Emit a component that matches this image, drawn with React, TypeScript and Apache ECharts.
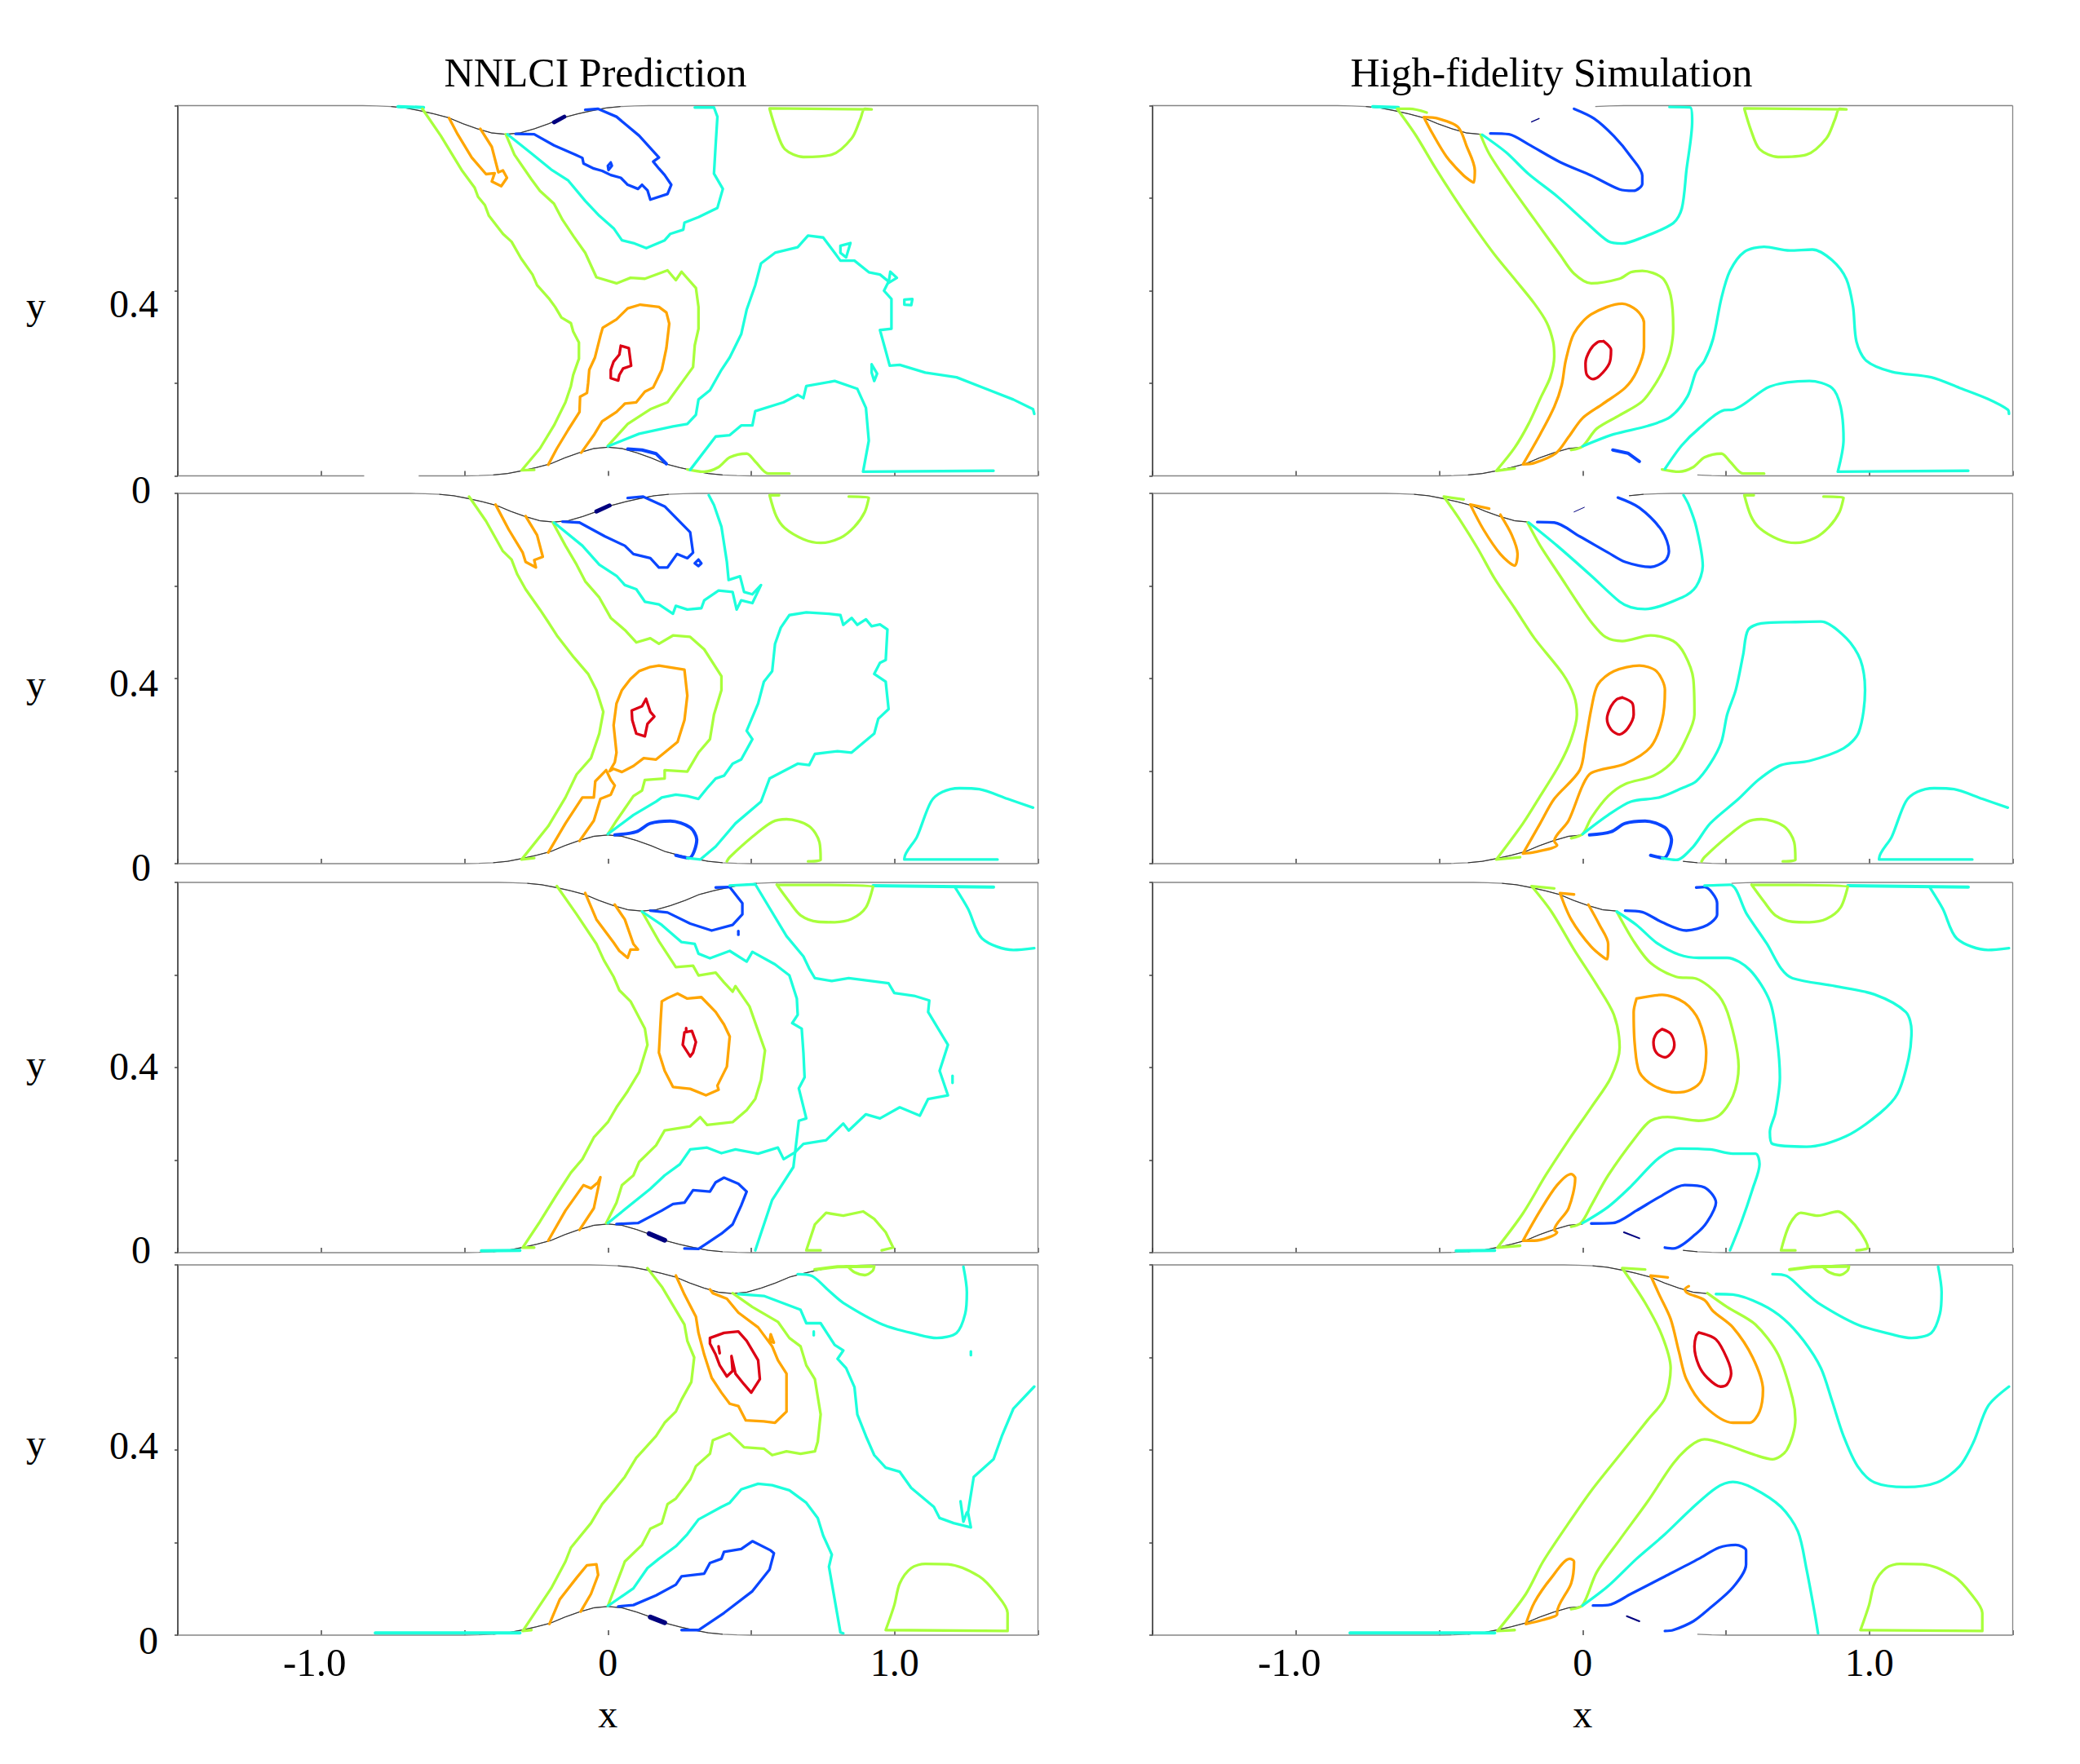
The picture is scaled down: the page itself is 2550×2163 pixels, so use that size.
import React, { useEffect, useRef } from "react";
import * as echarts from "echarts";

type Pt = number[];

const titles = ["NNLCI Prediction", "High-fidelity Simulation"];
const xTickValues = [-1, 0, 1];
const xTickLabels = ["-1.0", "0", "1.0"];
const yTickValues = [0, 0.4];
const yTickLabels = ["0", "0.4"];

// wall profile: offset from the throat centre and height of the wall
const wallOffsets = [-0.5, -0.45, -0.4, -0.35, -0.3, -0.25, -0.2, -0.15, -0.1, -0.05, 0, 0.05, 0.1, 0.15, 0.2, 0.25, 0.3, 0.35, 0.4, 0.45, 0.5];
const wallHeights = [0, 0.0005, 0.002, 0.005, 0.011, 0.018, 0.026, 0.039, 0.05, 0.059, 0.062, 0.059, 0.05, 0.039, 0.026, 0.018, 0.011, 0.005, 0.002, 0.0005, 0];
const upperThroatCentres = [-0.356, -0.188, 0.119, 0.435];

/* ---------- row 1 ---------- */
const r1_greenC: Pt[] = [[0.564,0.793],[0.587,0.747],[0.617,0.706],[0.682,0.689],[0.781,0.694],[0.85,0.729],[0.88,0.77],[0.896,0.793],[0.92,0.792],[0.564,0.794]];
const r1_greenD: Pt[] = [[0.277,0.014],[0.336,0.009],[0.386,0.019],[0.425,0.04],[0.484,0.048],[0.514,0.031],[0.56,0.005],[0.633,0.005]];
const r1_cyanTail: Pt[] = [[-0.732,0.798],[-0.643,0.796]];

const r1L_greenA: Pt[] = [[-0.647,0.793],[-0.583,0.735],[-0.508,0.659],[-0.465,0.623],[-0.453,0.603],[-0.429,0.585],[-0.415,0.562],[-0.366,0.523],[-0.336,0.506],[-0.303,0.47],[-0.263,0.435],[-0.247,0.412],[-0.204,0.382],[-0.184,0.365],[-0.162,0.342],[-0.129,0.33],[-0.121,0.312],[-0.101,0.288],[-0.101,0.253],[-0.121,0.218],[-0.129,0.194],[-0.148,0.159],[-0.188,0.109],[-0.237,0.059],[-0.301,0.012],[-0.257,0.013]];
const r1L_greenB: Pt[] = [[-0.356,0.738],[-0.326,0.694],[-0.267,0.641],[-0.237,0.616],[-0.188,0.588],[-0.158,0.553],[-0.119,0.517],[-0.079,0.482],[-0.04,0.429],[0.03,0.416],[0.079,0.428],[0.129,0.426],[0.208,0.444],[0.237,0.423],[0.257,0.441],[0.307,0.406],[0.316,0.365],[0.316,0.318],[0.303,0.282],[0.297,0.235],[0.263,0.206],[0.208,0.159],[0.148,0.144],[0.069,0.112],[0,0.065]];
const r1L_orangeA: Pt[] = [[-0.554,0.773],[-0.524,0.738],[-0.475,0.688],[-0.425,0.652],[-0.395,0.654],[-0.405,0.636],[-0.372,0.626],[-0.352,0.644],[-0.366,0.66],[-0.382,0.656],[-0.405,0.711],[-0.445,0.75]];
const r1L_orangeB: Pt[] = [[-0.208,0.024],[-0.178,0.059],[-0.138,0.1],[-0.099,0.138],[-0.097,0.171],[-0.073,0.179],[-0.069,0.2],[-0.065,0.229],[-0.045,0.256],[-0.026,0.303],[-0.018,0.32],[0.03,0.338],[0.069,0.362],[0.113,0.37],[0.178,0.365],[0.204,0.353],[0.214,0.329],[0.204,0.276],[0.188,0.229],[0.158,0.191],[0.129,0.182],[0.099,0.159],[0.059,0.156],[0.03,0.138],[-0.02,0.118],[-0.049,0.088],[-0.093,0.05]];
const r1L_red: Pt[] = [[0.045,0.281],[0.073,0.276],[0.081,0.238],[0.053,0.232],[0.04,0.218],[0.036,0.206],[0.01,0.211],[0.01,0.229],[0.02,0.247],[0.04,0.262],[0.045,0.281]];
const r1L_blueA: Pt[] = [[-0.322,0.739],[-0.257,0.738],[-0.188,0.714],[-0.113,0.694],[-0.089,0.687],[-0.085,0.675],[-0.049,0.664],[-0.02,0.659],[0.01,0.65],[0.045,0.644],[0.069,0.629],[0.105,0.62],[0.119,0.629],[0.138,0.617],[0.148,0.597],[0.208,0.609],[0.221,0.629],[0.198,0.65],[0.178,0.664],[0.158,0.679],[0.178,0.688],[0.109,0.735],[0.03,0.776],[-0.034,0.793],[-0.079,0.791]];
const r1L_blueDot: Pt[] = [[0.01,0.677],[0.014,0.67],[0.002,0.661],[0,0.67],[0.01,0.677]];
const r1L_blueB: Pt[] = [[0.069,0.058],[0.119,0.056],[0.168,0.048],[0.204,0.026]];
const r1L_navy: Pt[] = [[-0.188,0.764],[-0.152,0.776]];
const r1L_cyanA: Pt[] = [[-0.35,0.738],[-0.267,0.697],[-0.198,0.662],[-0.138,0.638],[-0.079,0.594],[-0.03,0.562],[0.02,0.535],[0.049,0.509],[0.089,0.503],[0.134,0.492],[0.198,0.509],[0.218,0.523],[0.263,0.532],[0.267,0.547],[0.316,0.559],[0.382,0.579],[0.401,0.62],[0.37,0.653],[0.376,0.717],[0.382,0.776],[0.37,0.796],[0.303,0.796]];
const r1L_cyanB: Pt[] = [[0,0.064],[0.109,0.091],[0.227,0.107],[0.277,0.112],[0.307,0.132],[0.316,0.165],[0.356,0.185],[0.396,0.229],[0.425,0.256],[0.465,0.306],[0.484,0.359],[0.514,0.412],[0.534,0.459],[0.583,0.482],[0.662,0.494],[0.698,0.519],[0.751,0.515],[0.791,0.482],[0.811,0.465],[0.86,0.465],[0.91,0.44],[0.949,0.435],[0.979,0.42],[0.963,0.4],[0.989,0.382],[0.989,0.318],[0.949,0.315],[0.969,0.27],[0.983,0.238],[1.018,0.24],[1.107,0.223],[1.216,0.213],[1.315,0.189],[1.414,0.165],[1.483,0.144],[1.487,0.134]];
const r1L_cyanC: Pt[] = [[0.287,0.013],[0.376,0.085],[0.425,0.088],[0.465,0.109],[0.504,0.109],[0.514,0.14],[0.613,0.159],[0.662,0.175],[0.682,0.168],[0.692,0.194],[0.791,0.205],[0.87,0.188],[0.9,0.147],[0.91,0.076],[0.89,0.009],[1.345,0.011]];
const r1L_cyanPolyA: Pt[] = [[0.811,0.497],[0.846,0.503],[0.831,0.472],[0.811,0.482],[0.811,0.497]];
const r1L_cyanPolyB: Pt[] = [[1.034,0.381],[1.062,0.382],[1.058,0.369],[1.034,0.37],[1.034,0.381]];
const r1L_cyanPolyC: Pt[] = [[0.92,0.241],[0.939,0.221],[0.929,0.205],[0.92,0.223],[0.92,0.241]];
const r1L_cyanPolyD: Pt[] = [[0.979,0.417],[0.985,0.441],[1.008,0.428],[0.979,0.417]];

const r1R_greenA: Pt[] = [[-0.544,0.785],[-0.603,0.793],[-0.647,0.793],[-0.583,0.737],[-0.514,0.666],[-0.435,0.59],[-0.366,0.528],[-0.307,0.478],[-0.237,0.425],[-0.168,0.372],[-0.125,0.331],[-0.103,0.29],[-0.099,0.258],[-0.113,0.213],[-0.144,0.172],[-0.188,0.113],[-0.237,0.061],[-0.301,0.011],[-0.237,0.016]];
const r1R_greenB: Pt[] = [[-0.356,0.737],[-0.326,0.696],[-0.257,0.631],[-0.168,0.554],[-0.079,0.478],[-0.03,0.437],[0.03,0.416],[0.129,0.426],[0.168,0.44],[0.208,0.443],[0.277,0.428],[0.307,0.39],[0.316,0.319],[0.307,0.272],[0.287,0.237],[0.257,0.202],[0.208,0.161],[0.129,0.131],[0.049,0.102],[0,0.064],[-0.04,0.056]];
const r1R_orangeA: Pt[] = [[-0.554,0.775],[-0.504,0.772],[-0.435,0.754],[-0.405,0.713],[-0.376,0.66],[-0.38,0.634],[-0.415,0.649],[-0.475,0.69],[-0.524,0.74],[-0.554,0.775]];
const r1R_orangeB: Pt[] = [[-0.208,0.025],[-0.148,0.09],[-0.099,0.149],[-0.073,0.196],[-0.059,0.249],[-0.03,0.308],[0.03,0.349],[0.138,0.372],[0.188,0.358],[0.214,0.331],[0.214,0.278],[0.188,0.225],[0.148,0.19],[0.069,0.155],[0,0.125],[-0.049,0.084],[-0.093,0.049],[-0.168,0.028],[-0.208,0.025]];
const r1R_red: Pt[] = [[0.073,0.291],[0.099,0.272],[0.093,0.243],[0.059,0.216],[0.036,0.209],[0.014,0.219],[0.01,0.243],[0.026,0.272],[0.053,0.289],[0.073,0.291]];
const r1R_blueA: Pt[] = [[-0.322,0.74],[-0.257,0.738],[-0.188,0.716],[-0.079,0.678],[0.03,0.649],[0.129,0.619],[0.178,0.616],[0.208,0.631],[0.208,0.649],[0.168,0.69],[0.109,0.734],[0.04,0.772],[-0.03,0.793]];
const r1R_blueB: Pt[] = [[0.105,0.056],[0.158,0.049],[0.198,0.031]];
const r1R_navy: Pt[] = [[-0.178,0.765],[-0.152,0.772]];
const r1R_cyanA: Pt[] = [[-0.35,0.737],[-0.267,0.699],[-0.188,0.652],[-0.089,0.604],[0.01,0.549],[0.089,0.507],[0.138,0.502],[0.208,0.515],[0.316,0.546],[0.346,0.578],[0.362,0.66],[0.382,0.766],[0.376,0.796],[0.303,0.797]];
const r1R_cyanB: Pt[] = [[0,0.064],[0.109,0.09],[0.227,0.108],[0.307,0.128],[0.366,0.172],[0.396,0.225],[0.425,0.249],[0.455,0.296],[0.484,0.384],[0.514,0.443],[0.564,0.484],[0.633,0.495],[0.722,0.487],[0.801,0.489],[0.87,0.466],[0.92,0.425],[0.943,0.366],[0.955,0.29],[0.989,0.249],[1.078,0.225],[1.216,0.213],[1.315,0.19],[1.414,0.166],[1.483,0.143],[1.487,0.134]];
const r1R_cyanC: Pt[] = [[0.287,0.015],[0.346,0.066],[0.405,0.102],[0.494,0.142],[0.524,0.143],[0.653,0.193],[0.791,0.205],[0.87,0.19],[0.9,0.149],[0.91,0.078],[0.89,0.009],[1.345,0.011]];

/* ---------- row 2 ---------- */
const r2_greenC: Pt[] = [[0.597,0.796],[0.564,0.796],[0.587,0.751],[0.617,0.725],[0.682,0.701],[0.742,0.693],[0.811,0.704],[0.86,0.728],[0.896,0.76],[0.91,0.791],[0.84,0.793]];
const r2_greenD: Pt[] = [[0.415,0.005],[0.425,0.014],[0.504,0.058],[0.573,0.09],[0.623,0.096],[0.702,0.081],[0.738,0.046],[0.742,0.008],[0.698,0.005]];
const r2_blueB: Pt[] = [[0.024,0.062],[0.099,0.069],[0.148,0.087],[0.218,0.092],[0.287,0.078],[0.31,0.052],[0.283,0.012],[0.237,0.018]];
const r2_cyanC: Pt[] = [[1.359,0.009],[1.034,0.009],[1.034,0.011],[1.078,0.058],[1.127,0.134],[1.167,0.155],[1.226,0.163],[1.295,0.161],[1.394,0.14],[1.483,0.121]];

const r2L_greenA: Pt[] = [[-0.484,0.793],[-0.425,0.74],[-0.366,0.675],[-0.336,0.657],[-0.316,0.625],[-0.287,0.593],[-0.237,0.549],[-0.208,0.522],[-0.178,0.493],[-0.119,0.446],[-0.069,0.41],[-0.04,0.375],[-0.016,0.328],[-0.03,0.281],[-0.059,0.228],[-0.109,0.193],[-0.148,0.143],[-0.208,0.081],[-0.301,0.009],[-0.257,0.012]];
const r2L_greenB: Pt[] = [[-0.192,0.737],[-0.148,0.687],[-0.109,0.646],[-0.079,0.61],[-0.03,0.575],[0.01,0.531],[0.059,0.505],[0.099,0.478],[0.148,0.487],[0.178,0.475],[0.227,0.493],[0.287,0.49],[0.336,0.463],[0.396,0.405],[0.396,0.375],[0.37,0.322],[0.356,0.269],[0.316,0.24],[0.277,0.199],[0.198,0.202],[0.198,0.184],[0.129,0.181],[0.119,0.158],[0.089,0.146],[0.03,0.093],[0,0.064]];
const r2L_orangeA: Pt[] = [[-0.392,0.776],[-0.346,0.722],[-0.297,0.672],[-0.287,0.652],[-0.251,0.64],[-0.257,0.656],[-0.227,0.663],[-0.247,0.71],[-0.287,0.751]];
const r2L_orangeB: Pt[] = [[0.03,0.24],[0.02,0.299],[0.03,0.346],[0.049,0.375],[0.079,0.399],[0.109,0.416],[0.148,0.425],[0.178,0.428],[0.227,0.423],[0.267,0.419],[0.277,0.363],[0.267,0.31],[0.243,0.263],[0.198,0.24],[0.168,0.225],[0.125,0.228],[0.089,0.211],[0.049,0.198],[0.02,0.205],[0.006,0.2],[0.024,0.219],[0.03,0.24]];
const r2L_orangeC: Pt[] = [[-0.208,0.024],[-0.148,0.087],[-0.089,0.143],[-0.049,0.143],[-0.044,0.178],[-0.006,0.202],[0.01,0.181],[0.024,0.169],[0.01,0.149],[-0.026,0.14],[-0.049,0.093],[-0.099,0.049]];
const r2L_red: Pt[] = [[0.133,0.356],[0.148,0.328],[0.162,0.318],[0.138,0.302],[0.129,0.275],[0.099,0.281],[0.085,0.31],[0.083,0.331],[0.119,0.34],[0.133,0.356]];
const r2L_blueA: Pt[] = [[-0.158,0.739],[-0.099,0.737],[-0.01,0.707],[0.059,0.687],[0.089,0.669],[0.148,0.66],[0.178,0.64],[0.208,0.64],[0.241,0.669],[0.277,0.66],[0.297,0.672],[0.287,0.716],[0.198,0.772],[0.123,0.793],[0.069,0.79]];
const r2L_bluePoly: Pt[] = [[0.316,0.657],[0.326,0.649],[0.316,0.643],[0.303,0.649],[0.316,0.657]];
const r2L_navy: Pt[] = [[-0.04,0.761],[0.006,0.774]];
const r2L_cyanA: Pt[] = [[-0.188,0.737],[-0.089,0.687],[-0.03,0.646],[0.03,0.622],[0.059,0.602],[0.099,0.593],[0.129,0.566],[0.178,0.56],[0.227,0.54],[0.237,0.557],[0.277,0.549],[0.326,0.552],[0.336,0.569],[0.386,0.59],[0.435,0.587],[0.449,0.549],[0.465,0.569],[0.504,0.563],[0.534,0.602],[0.504,0.582],[0.475,0.587],[0.461,0.621],[0.421,0.613],[0.415,0.652],[0.396,0.728],[0.37,0.775],[0.352,0.796]];
const r2L_cyanB: Pt[] = [[0,0.064],[0.089,0.105],[0.168,0.134],[0.188,0.143],[0.237,0.149],[0.277,0.146],[0.316,0.14],[0.346,0.163],[0.376,0.184],[0.405,0.19],[0.435,0.216],[0.465,0.225],[0.504,0.269],[0.484,0.287],[0.524,0.346],[0.544,0.393],[0.573,0.416],[0.583,0.475],[0.603,0.51],[0.633,0.537],[0.692,0.543],[0.771,0.54],[0.811,0.537],[0.821,0.516],[0.85,0.531],[0.87,0.516],[0.9,0.528],[0.92,0.513],[0.949,0.517],[0.975,0.506],[0.969,0.44],[0.949,0.434],[0.929,0.41],[0.969,0.393],[0.979,0.334],[0.943,0.313],[0.929,0.281],[0.85,0.24],[0.801,0.243],[0.722,0.237],[0.702,0.213],[0.662,0.216],[0.564,0.184],[0.534,0.134],[0.445,0.087],[0.376,0.037],[0.322,0.009],[0.277,0.012]];

const r2R_greenA: Pt[] = [[-0.415,0.787],[-0.484,0.793],[-0.425,0.74],[-0.366,0.681],[-0.307,0.616],[-0.237,0.552],[-0.168,0.487],[-0.069,0.41],[-0.03,0.363],[-0.02,0.322],[-0.04,0.269],[-0.079,0.216],[-0.148,0.146],[-0.208,0.087],[-0.301,0.009],[-0.218,0.014]];
const r2R_greenB: Pt[] = [[-0.192,0.737],[-0.148,0.687],[-0.079,0.622],[-0.01,0.557],[0.03,0.522],[0.079,0.49],[0.138,0.481],[0.237,0.493],[0.316,0.481],[0.356,0.452],[0.386,0.399],[0.39,0.322],[0.356,0.263],[0.316,0.222],[0.247,0.19],[0.148,0.172],[0.089,0.146],[0.03,0.099],[0,0.064],[-0.04,0.055]];
const r2R_orangeA: Pt[] = [[-0.326,0.767],[-0.392,0.776],[-0.346,0.722],[-0.287,0.669],[-0.237,0.644],[-0.227,0.669],[-0.247,0.71],[-0.287,0.754]];
const r2R_orangeB: Pt[] = [[-0.208,0.022],[-0.148,0.087],[-0.099,0.14],[-0.01,0.202],[0.01,0.263],[0.03,0.334],[0.053,0.387],[0.109,0.416],[0.198,0.428],[0.257,0.416],[0.287,0.375],[0.277,0.31],[0.237,0.252],[0.148,0.216],[0.03,0.196],[0,0.169],[-0.049,0.093],[-0.099,0.049],[-0.089,0.04],[-0.168,0.025],[-0.208,0.022]];
const r2R_red: Pt[] = [[0.138,0.359],[0.174,0.346],[0.178,0.322],[0.158,0.293],[0.129,0.279],[0.099,0.29],[0.085,0.313],[0.099,0.34],[0.119,0.355],[0.138,0.359]];
const r2R_blueA: Pt[] = [[-0.158,0.738],[-0.099,0.737],[-0.01,0.707],[0.089,0.672],[0.148,0.652],[0.237,0.641],[0.287,0.654],[0.301,0.675],[0.277,0.719],[0.198,0.769],[0.123,0.791]];
const r2R_navy: Pt[] = [[-0.03,0.76],[0.006,0.77]];
const r2R_cyanA: Pt[] = [[-0.188,0.737],[-0.089,0.687],[0.03,0.622],[0.129,0.566],[0.168,0.554],[0.218,0.55],[0.346,0.575],[0.396,0.599],[0.419,0.643],[0.396,0.728],[0.37,0.775],[0.352,0.796]];
const r2R_cyanB: Pt[] = [[0,0.064],[0.089,0.105],[0.168,0.134],[0.267,0.143],[0.346,0.163],[0.396,0.178],[0.445,0.216],[0.484,0.263],[0.504,0.322],[0.534,0.375],[0.56,0.452],[0.577,0.505],[0.623,0.519],[0.742,0.522],[0.831,0.523],[0.92,0.487],[0.969,0.44],[0.985,0.375],[0.963,0.284],[0.91,0.249],[0.791,0.222],[0.692,0.213],[0.613,0.181],[0.544,0.14],[0.445,0.087],[0.386,0.037],[0.326,0.008],[0.277,0.012]];

/* ---------- row 3 ---------- */
const r3_greenC: Pt[] = [[0.589,0.795],[0.633,0.758],[0.672,0.729],[0.732,0.715],[0.791,0.714],[0.85,0.721],[0.9,0.746],[0.925,0.792],[0.589,0.795]];
const r3_greenD: Pt[] = [[0.742,0.005],[0.692,0.005],[0.722,0.061],[0.761,0.086],[0.821,0.08],[0.89,0.089],[0.929,0.073],[0.969,0.044],[0.995,0.011],[0.955,0.005]];
const r3_cyanTop: Pt[] = [[0.925,0.793],[1.345,0.79]];
const r3_cyanRight: Pt[] = [[1.21,0.79],[1.256,0.743],[1.305,0.679],[1.414,0.654],[1.487,0.658]];
const r3_cyanTail: Pt[] = [[-0.441,0.004],[-0.307,0.005]];

const r3L_greenA: Pt[] = [[-0.178,0.792],[-0.109,0.731],[-0.04,0.667],[-0.014,0.632],[0.02,0.596],[0.04,0.567],[0.079,0.543],[0.129,0.484],[0.138,0.449],[0.109,0.39],[0.069,0.349],[0.03,0.314],[0,0.282],[-0.049,0.249],[-0.089,0.202],[-0.129,0.173],[-0.178,0.126],[-0.237,0.067],[-0.297,0.011],[-0.257,0.011]];
const r3L_greenB: Pt[] = [[0.119,0.737],[0.178,0.673],[0.237,0.617],[0.297,0.62],[0.316,0.599],[0.376,0.605],[0.405,0.584],[0.435,0.564],[0.445,0.576],[0.494,0.532],[0.524,0.479],[0.548,0.437],[0.534,0.373],[0.514,0.332],[0.484,0.308],[0.435,0.282],[0.346,0.276],[0.322,0.293],[0.287,0.273],[0.198,0.264],[0.168,0.232],[0.109,0.196],[0.089,0.167],[0.049,0.146],[0.03,0.108],[-0.006,0.064]];
const r3L_orangeA: Pt[] = [[-0.079,0.777],[-0.04,0.72],[0.02,0.67],[0.04,0.652],[0.069,0.637],[0.079,0.655],[0.105,0.655],[0.089,0.667],[0.059,0.72],[0.024,0.752]];
const r3L_orangeB: Pt[] = [[0.188,0.543],[0.208,0.55],[0.243,0.56],[0.277,0.549],[0.326,0.552],[0.376,0.52],[0.405,0.493],[0.425,0.467],[0.415,0.402],[0.382,0.361],[0.386,0.352],[0.342,0.34],[0.287,0.354],[0.227,0.358],[0.198,0.393],[0.178,0.432],[0.184,0.502],[0.188,0.543]];
const r3L_orangeC: Pt[] = [[-0.208,0.026],[-0.148,0.091],[-0.085,0.146],[-0.059,0.139],[-0.034,0.152],[-0.026,0.163],[-0.049,0.096],[-0.099,0.049]];
const r3L_red: Pt[] = [[0.267,0.476],[0.293,0.479],[0.307,0.455],[0.297,0.432],[0.287,0.424],[0.261,0.449],[0.267,0.476]];
const r3L_redDot: Pt[] = [[0.273,0.485],[0.273,0.478]];
const r3L_blueA: Pt[] = [[0.148,0.739],[0.208,0.735],[0.287,0.711],[0.362,0.696],[0.435,0.708],[0.469,0.731],[0.469,0.755],[0.425,0.79],[0.376,0.789]];
const r3L_blueDot: Pt[] = [[0.455,0.695],[0.455,0.687]];
const r3L_blueB: Pt[] = [[0.03,0.062],[0.105,0.064],[0.188,0.091],[0.227,0.105],[0.267,0.108],[0.297,0.135],[0.356,0.132],[0.376,0.152],[0.405,0.162],[0.455,0.149],[0.484,0.132],[0.465,0.102],[0.435,0.061],[0.396,0.041],[0.316,0.008],[0.267,0.009]];
const r3L_navy: Pt[] = [[0.144,0.041],[0.198,0.027]];
const r3L_cyanA: Pt[] = [[0.119,0.737],[0.188,0.708],[0.257,0.671],[0.303,0.667],[0.316,0.646],[0.356,0.636],[0.425,0.652],[0.484,0.629],[0.504,0.65],[0.583,0.623],[0.633,0.599],[0.659,0.549],[0.662,0.514],[0.643,0.496],[0.676,0.484],[0.682,0.432],[0.686,0.379],[0.666,0.355],[0.692,0.29],[0.666,0.285],[0.647,0.185],[0.573,0.114],[0.514,0.005]];
const r3L_cyanB: Pt[] = [[0,0.064],[0.148,0.138],[0.198,0.167],[0.251,0.191],[0.287,0.223],[0.346,0.227],[0.396,0.215],[0.445,0.223],[0.524,0.214],[0.593,0.227],[0.613,0.202],[0.653,0.217],[0.682,0.235],[0.761,0.243],[0.821,0.279],[0.84,0.264],[0.9,0.299],[0.949,0.29],[1.018,0.314],[1.088,0.296],[1.117,0.332],[1.186,0.34],[1.157,0.393],[1.186,0.449],[1.117,0.52],[1.121,0.545],[1.068,0.555],[0.999,0.561],[0.979,0.582],[0.84,0.593],[0.781,0.587],[0.722,0.593],[0.702,0.614],[0.682,0.64],[0.623,0.684],[0.514,0.796],[0.425,0.793]];
const r3L_cyanDot: Pt[] = [[1.202,0.382],[1.202,0.367]];

const r3R_greenA: Pt[] = [[-0.099,0.787],[-0.178,0.792],[-0.109,0.737],[-0.03,0.655],[0.049,0.579],[0.109,0.514],[0.129,0.443],[0.099,0.379],[0.03,0.314],[-0.049,0.243],[-0.129,0.167],[-0.208,0.085],[-0.297,0.011],[-0.218,0.015]];
const r3R_greenB: Pt[] = [[0.119,0.737],[0.178,0.673],[0.237,0.626],[0.326,0.596],[0.396,0.592],[0.475,0.555],[0.514,0.502],[0.544,0.402],[0.524,0.338],[0.475,0.296],[0.405,0.285],[0.297,0.293],[0.237,0.285],[0.188,0.252],[0.089,0.167],[0.03,0.102],[-0.006,0.064],[-0.04,0.056]];
const r3R_orangeA: Pt[] = [[-0.03,0.774],[-0.079,0.777],[-0.04,0.72],[0.03,0.661],[0.085,0.634],[0.089,0.667],[0.059,0.708],[0.02,0.752]];
const r3R_orangeB: Pt[] = [[0.188,0.549],[0.277,0.557],[0.356,0.54],[0.405,0.502],[0.431,0.432],[0.415,0.373],[0.376,0.352],[0.326,0.346],[0.247,0.361],[0.198,0.39],[0.182,0.449],[0.178,0.52],[0.188,0.549]];
const r3R_orangeC: Pt[] = [[-0.208,0.026],[-0.148,0.091],[-0.089,0.146],[-0.04,0.17],[-0.026,0.161],[-0.049,0.096],[-0.099,0.049],[-0.089,0.044],[-0.168,0.026],[-0.208,0.026]];
const r3R_red: Pt[] = [[0.277,0.483],[0.307,0.473],[0.32,0.449],[0.31,0.432],[0.287,0.422],[0.257,0.432],[0.247,0.455],[0.257,0.473],[0.277,0.483]];
const r3R_blueA: Pt[] = [[0.148,0.739],[0.208,0.736],[0.277,0.714],[0.362,0.696],[0.435,0.708],[0.469,0.731],[0.469,0.755],[0.425,0.79],[0.396,0.789]];
const r3R_blueB: Pt[] = [[0.03,0.063],[0.105,0.064],[0.188,0.091],[0.267,0.12],[0.356,0.146],[0.425,0.141],[0.465,0.108],[0.435,0.067],[0.396,0.041],[0.316,0.009],[0.287,0.011]];
const r3R_navy: Pt[] = [[0.144,0.044],[0.198,0.031]];
const r3R_cyanA: Pt[] = [[0.119,0.737],[0.188,0.708],[0.257,0.67],[0.336,0.644],[0.405,0.637],[0.504,0.637],[0.583,0.611],[0.653,0.543],[0.678,0.461],[0.688,0.379],[0.672,0.302],[0.653,0.261],[0.662,0.235],[0.781,0.229],[0.92,0.252],[1.038,0.302],[1.098,0.343],[1.137,0.42],[1.147,0.479],[1.127,0.52],[1.018,0.558],[0.88,0.576],[0.732,0.593],[0.692,0.614],[0.643,0.667],[0.573,0.731],[0.514,0.795],[0.425,0.793]];
const r3R_cyanB: Pt[] = [[0,0.064],[0.089,0.099],[0.168,0.143],[0.267,0.205],[0.336,0.225],[0.445,0.223],[0.524,0.214],[0.603,0.214],[0.617,0.191],[0.593,0.138],[0.554,0.067],[0.514,0.005]];

/* ---------- row 4 ---------- */
const r4_greenC: Pt[] = [[0.969,0.011],[1.394,0.009],[1.394,0.048],[1.355,0.089],[1.295,0.127],[1.186,0.153],[1.107,0.154],[1.058,0.145],[1.018,0.112],[0.999,0.065],[0.969,0.011]];
const r4_greenD: Pt[] = [[0.722,0.79],[0.801,0.796],[0.92,0.797]];
const r4_greenLoop: Pt[] = [[0.836,0.797],[0.86,0.784],[0.896,0.778],[0.923,0.787],[0.929,0.797]];
const r4_cyanC: Pt[] = [[0.662,0.78],[0.712,0.776],[0.771,0.744],[0.821,0.718],[0.959,0.671],[1.078,0.65],[1.147,0.642],[1.216,0.653],[1.246,0.694],[1.252,0.741],[1.24,0.796]];
const r4_cyanTail: Pt[] = [[-0.811,0.005],[-0.307,0.005]];

const r4L_greenA: Pt[] = [[0.138,0.793],[0.188,0.753],[0.267,0.671],[0.277,0.636],[0.301,0.6],[0.291,0.547],[0.257,0.509],[0.237,0.483],[0.198,0.459],[0.168,0.43],[0.099,0.383],[0.059,0.342],[0.02,0.312],[-0.02,0.283],[-0.059,0.242],[-0.129,0.189],[-0.148,0.159],[-0.198,0.101],[-0.297,0.009],[-0.267,0.011]];
const r4L_greenB: Pt[] = [[0.435,0.739],[0.504,0.709],[0.593,0.677],[0.633,0.642],[0.672,0.624],[0.692,0.583],[0.722,0.553],[0.742,0.477],[0.732,0.418],[0.722,0.397],[0.672,0.392],[0.623,0.397],[0.573,0.389],[0.544,0.403],[0.475,0.406],[0.425,0.436],[0.366,0.421],[0.356,0.392],[0.307,0.365],[0.287,0.336],[0.237,0.295],[0.208,0.283],[0.188,0.242],[0.148,0.23],[0.119,0.195],[0.059,0.159],[0.049,0.142],[0,0.063]];
const r4L_orangeA: Pt[] = [[0.237,0.777],[0.267,0.736],[0.307,0.688],[0.316,0.653],[0.336,0.606],[0.362,0.556],[0.396,0.524],[0.425,0.5],[0.455,0.495],[0.481,0.464],[0.544,0.462],[0.583,0.459],[0.623,0.483],[0.623,0.565],[0.593,0.594],[0.573,0.624],[0.524,0.665],[0.455,0.697],[0.415,0.727],[0.366,0.739],[0.356,0.747]];
const r4L_orangeDot: Pt[] = [[0.568,0.65],[0.579,0.632],[0.564,0.635],[0.568,0.65]];
const r4L_orangeB: Pt[] = [[-0.204,0.024],[-0.168,0.077],[-0.109,0.124],[-0.073,0.151],[-0.04,0.153],[-0.034,0.13],[-0.059,0.089],[-0.095,0.051]];
const r4L_red: Pt[] = [[0.356,0.642],[0.405,0.653],[0.455,0.656],[0.484,0.636],[0.524,0.594],[0.53,0.553],[0.5,0.524],[0.475,0.542],[0.445,0.565],[0.431,0.603],[0.435,0.571],[0.415,0.559],[0.39,0.583],[0.376,0.606],[0.356,0.63],[0.356,0.642]];
const r4L_redDot: Pt[] = [[0.386,0.624],[0.39,0.609]];
const r4L_blueA: Pt[] = [[0.036,0.062],[0.089,0.065],[0.168,0.086],[0.237,0.109],[0.257,0.127],[0.336,0.133],[0.356,0.156],[0.396,0.165],[0.405,0.18],[0.465,0.186],[0.504,0.203],[0.568,0.183],[0.579,0.177],[0.564,0.142],[0.504,0.095],[0.405,0.048],[0.316,0.011],[0.257,0.011]];
const r4L_navy: Pt[] = [[0.148,0.039],[0.198,0.027]];
const r4L_cyanA: Pt[] = [[0.455,0.737],[0.544,0.733],[0.672,0.703],[0.692,0.674],[0.742,0.674],[0.791,0.627],[0.821,0.615],[0.801,0.597],[0.831,0.577],[0.86,0.536],[0.87,0.477],[0.9,0.43],[0.929,0.389],[0.969,0.362],[1.018,0.353],[1.058,0.318],[1.137,0.277],[1.157,0.253],[1.206,0.242],[1.266,0.233],[1.256,0.265],[1.276,0.342],[1.345,0.38],[1.374,0.43],[1.414,0.489],[1.487,0.537]];
const r4L_cyanSpike: Pt[] = [[1.23,0.289],[1.24,0.245],[1.252,0.265]];
const r4L_cyanDotA: Pt[] = [[0.718,0.656],[0.718,0.648]];
const r4L_cyanDotB: Pt[] = [[1.266,0.613],[1.266,0.605]];
const r4L_cyanB: Pt[] = [[0,0.063],[0.089,0.101],[0.138,0.145],[0.178,0.165],[0.237,0.192],[0.277,0.218],[0.316,0.25],[0.396,0.277],[0.425,0.286],[0.465,0.315],[0.524,0.327],[0.573,0.324],[0.633,0.313],[0.692,0.286],[0.732,0.253],[0.751,0.215],[0.781,0.174],[0.771,0.148],[0.811,0.006],[0.821,0.004]];

const r4R_greenA: Pt[] = [[0.218,0.79],[0.138,0.793],[0.218,0.718],[0.277,0.647],[0.307,0.577],[0.287,0.512],[0.227,0.465],[0.129,0.389],[0.03,0.312],[-0.049,0.242],[-0.138,0.159],[-0.198,0.089],[-0.297,0.009],[-0.237,0.011]];
const r4R_greenB: Pt[] = [[0.435,0.739],[0.504,0.709],[0.603,0.671],[0.682,0.606],[0.732,0.512],[0.742,0.465],[0.712,0.4],[0.662,0.38],[0.603,0.389],[0.504,0.411],[0.425,0.423],[0.376,0.409],[0.316,0.371],[0.227,0.289],[0.129,0.206],[0.049,0.136],[0,0.065],[-0.04,0.056]];
const r4R_orangeA: Pt[] = [[0.297,0.773],[0.237,0.777],[0.267,0.736],[0.307,0.683],[0.336,0.612],[0.362,0.553],[0.425,0.495],[0.524,0.459],[0.583,0.459],[0.617,0.483],[0.629,0.53],[0.593,0.6],[0.524,0.665],[0.455,0.7],[0.425,0.724],[0.366,0.739],[0.356,0.747],[0.37,0.754]];
const r4R_orangeB: Pt[] = [[-0.198,0.024],[-0.168,0.071],[-0.109,0.124],[-0.045,0.165],[-0.03,0.159],[-0.04,0.112],[-0.089,0.049],[-0.089,0.045],[-0.138,0.033],[-0.198,0.024]];
const r4R_red: Pt[] = [[0.405,0.654],[0.465,0.639],[0.504,0.597],[0.518,0.565],[0.504,0.542],[0.481,0.537],[0.435,0.556],[0.405,0.583],[0.39,0.624],[0.396,0.647],[0.405,0.654]];
const r4R_blueA: Pt[] = [[0.036,0.064],[0.089,0.065],[0.168,0.089],[0.287,0.127],[0.405,0.165],[0.475,0.189],[0.534,0.195],[0.57,0.183],[0.57,0.153],[0.524,0.103],[0.445,0.059],[0.386,0.03],[0.316,0.011],[0.287,0.009]];
const r4R_navy: Pt[] = [[0.154,0.041],[0.198,0.03]];
const r4R_cyanA: Pt[] = [[0.465,0.737],[0.524,0.736],[0.623,0.715],[0.702,0.683],[0.771,0.636],[0.831,0.577],[0.87,0.506],[0.91,0.43],[0.959,0.365],[1.018,0.33],[1.127,0.32],[1.236,0.33],[1.315,0.365],[1.364,0.418],[1.414,0.495],[1.487,0.537]];
const r4R_cyanB: Pt[] = [[0,0.064],[0.089,0.106],[0.188,0.165],[0.287,0.218],[0.376,0.271],[0.465,0.318],[0.524,0.331],[0.593,0.318],[0.692,0.277],[0.751,0.224],[0.781,0.142],[0.811,0.042],[0.821,0.004]];

const CYAN = "#1CFFDC", GREEN = "#A8FF3C", ORANGE = "#FFA500", RED = "#DC0014", BLUE = "#0A46FF", NAVY = "#00007F";

const leftCurves: [Pt[], string, number?][][] = [
  [[r1_cyanTail,CYAN,4],[r1L_greenA,GREEN],[r1L_greenB,GREEN],[r1_greenC,GREEN],[r1_greenD,GREEN],[r1L_orangeA,ORANGE],[r1L_orangeB,ORANGE],[r1L_red,RED],[r1L_blueA,BLUE],[r1L_blueDot,BLUE],[r1L_blueB,BLUE,4],[r1L_navy,NAVY,5],[r1L_cyanA,CYAN],[r1L_cyanB,CYAN],[r1L_cyanC,CYAN],[r1L_cyanPolyA,CYAN],[r1L_cyanPolyB,CYAN],[r1L_cyanPolyC,CYAN],[r1L_cyanPolyD,CYAN]],
  [[r2L_greenA,GREEN],[r2L_greenB,GREEN],[r2_greenC,GREEN],[r2_greenD,GREEN],[r2L_orangeA,ORANGE],[r2L_orangeB,ORANGE],[r2L_orangeC,ORANGE],[r2L_red,RED],[r2L_blueA,BLUE],[r2L_bluePoly,BLUE],[r2_blueB,BLUE,4],[r2L_navy,NAVY,5],[r2L_cyanA,CYAN],[r2L_cyanB,CYAN],[r2_cyanC,CYAN]],
  [[r3_cyanTail,CYAN,4],[r3_cyanTop,CYAN,4],[r3_cyanRight,CYAN],[r3L_greenA,GREEN],[r3L_greenB,GREEN],[r3_greenC,GREEN],[r3_greenD,GREEN],[r3L_orangeA,ORANGE],[r3L_orangeB,ORANGE],[r3L_orangeC,ORANGE],[r3L_red,RED],[r3L_redDot,RED],[r3L_blueA,BLUE],[r3L_blueDot,BLUE],[r3L_blueB,BLUE],[r3L_navy,NAVY,6],[r3L_cyanA,CYAN],[r3L_cyanB,CYAN],[r3L_cyanDot,CYAN]],
  [[r4_cyanTail,CYAN,4],[r4L_greenA,GREEN],[r4L_greenB,GREEN],[r4_greenC,GREEN],[r4_greenD,GREEN,4],[r4_greenLoop,GREEN],[r4L_orangeA,ORANGE],[r4L_orangeDot,ORANGE],[r4L_orangeB,ORANGE],[r4L_red,RED],[r4L_redDot,RED],[r4L_blueA,BLUE],[r4L_navy,NAVY,6],[r4L_cyanA,CYAN],[r4L_cyanSpike,CYAN],[r4L_cyanDotA,CYAN],[r4L_cyanDotB,CYAN],[r4L_cyanB,CYAN],[r4_cyanC,CYAN]],
];
const rightCurves: [Pt[], string, number?][][] = [
  [[r1_cyanTail,CYAN,4],[r1R_greenA,GREEN],[r1R_greenB,GREEN],[r1_greenC,GREEN],[r1_greenD,GREEN],[r1R_orangeA,ORANGE],[r1R_orangeB,ORANGE],[r1R_red,RED],[r1R_blueA,BLUE],[r1R_blueB,BLUE,4],[r1R_navy,NAVY,1.5],[r1R_cyanA,CYAN],[r1R_cyanB,CYAN],[r1R_cyanC,CYAN]],
  [[r2R_greenA,GREEN],[r2R_greenB,GREEN],[r2_greenC,GREEN],[r2_greenD,GREEN],[r2R_orangeA,ORANGE],[r2R_orangeB,ORANGE],[r2R_red,RED],[r2R_blueA,BLUE],[r2_blueB,BLUE,4],[r2R_navy,NAVY,1],[r2R_cyanA,CYAN],[r2R_cyanB,CYAN],[r2_cyanC,CYAN]],
  [[r3_cyanTail,CYAN,4],[r3_cyanTop,CYAN,4],[r3_cyanRight,CYAN],[r3R_greenA,GREEN],[r3R_greenB,GREEN],[r3_greenC,GREEN],[r3_greenD,GREEN],[r3R_orangeA,ORANGE],[r3R_orangeB,ORANGE],[r3R_orangeC,ORANGE],[r3R_red,RED],[r3R_blueA,BLUE],[r3R_blueB,BLUE],[r3R_navy,NAVY,2],[r3R_cyanA,CYAN],[r3R_cyanB,CYAN]],
  [[r4_cyanTail,CYAN,4],[r4R_greenA,GREEN],[r4R_greenB,GREEN],[r4_greenC,GREEN],[r4_greenD,GREEN,4],[r4_greenLoop,GREEN],[r4R_orangeA,ORANGE],[r4R_orangeB,ORANGE],[r4R_red,RED],[r4R_blueA,BLUE],[r4R_navy,NAVY,2],[r4R_cyanA,CYAN],[r4R_cyanB,CYAN],[r4_cyanC,CYAN]],
];

// curves that are smooth in the prediction column too
const smoothEverywhere = new Set<Pt[]>([r1_greenC, r1_greenD, r2_greenC, r2_greenD, r2_blueB, r2_cyanC, r3_greenC, r3_cyanRight, r4_greenC, r4_cyanC, r4_greenLoop]);

// gaps where the picture leaves the wall undrawn: [from, to] in x
const upperGaps = [[[], [[-0.33, 0.03]]], [[], [[-0.178, 0.158]]], [[], [[0.128, 0.494]]], [[], [[0.465, 0.8]]]];
const lowerGaps = [[[[-0.85, -0.66]], [[0.01, 0.376]]], [[], [[0.01, 0.346]]], [[], [[0.01, 0.346]]], [[], [[0.01, 0.376]]]];

/* layout */
const COLS = [{ left: 218, width: 1054.5 }, { left: 1413, width: 1054.5 }];
const ROWS = [{ top: 129.5, bottom: 583.5 }, { top: 605, bottom: 1059 }, { top: 1082, bottom: 1536 }, { top: 1551, bottom: 2005 }];
const FONT = "'Liberation Serif', 'Times New Roman', serif";
const yNameCentres = [374, 838, 1304, 1769];
// vertical displacement of the label relative to its tick, as set in the original figure
const labelShift = [{ mid: 16, zero: 17, zeroRight: 9 }, { mid: 5, zero: 4, zeroRight: 9 }, { mid: -2, zero: -4, zeroRight: 9 }, { mid: -6, zero: 6, zeroRight: 0 }];

function rimPath(centre: number, rim: number, dir: number, gaps: number[][]): (Pt | null)[] {
  const prof: Pt[] = wallOffsets.map((o, i) => [centre + o, rim + dir * wallHeights[i]]);
  const edges = gaps.flat().filter((g) => Math.abs(g - centre) > 0.5).map((g) => [g, rim]);
  const pts = [[-1.5, rim], ...prof, [1.5, rim], ...edges].sort((a, b) => a[0] - b[0]);
  const out: (Pt | null)[] = [];
  let prev = -9;
  for (const p of pts) {
    const inside = gaps.some(([a, b]) => p[0] > a && p[0] < b);
    if (inside) continue;
    if (gaps.some(([a, b]) => prev <= a && p[0] >= b)) out.push(null);
    out.push(p);
    prev = p[0];
  }
  return out;
}

function buildOption() {
  const grid: any[] = [], xAxis: any[] = [], yAxis: any[] = [], series: any[] = [], graphic: any[] = [];
  let idx = 0;
  ROWS.forEach((row, r) => {
    COLS.forEach((col, c) => {
      grid.push({ left: col.left, width: col.width, top: row.top, height: row.bottom - row.top, containLabel: false });
      const last = r === ROWS.length - 1;
      xAxis.push({
        type: "value", gridIndex: idx, min: -1.5, max: 1.5, interval: 0.5,
        axisLine: { show: false },
        axisTick: { show: true, inside: true, length: 6, lineStyle: { color: "#444", width: 1.5 } },
        splitLine: { show: false },
        axisLabel: {
          show: last, margin: 9, color: "#000", fontFamily: FONT, fontSize: 48,
          formatter: (v: number) => {
            const i = xTickValues.findIndex((t) => Math.abs(t - v) < 1e-6);
            if (i < 0) return "";
            return i === 0 ? `{neg|${xTickLabels[i]}}` : xTickLabels[i];
          },
          rich: { neg: { fontFamily: FONT, fontSize: 49, color: "#000", padding: [0, 16, 0, 0] } },
        },
        name: last ? "x" : "", nameLocation: "middle", nameGap: 72,
        nameTextStyle: { color: "#000", fontFamily: FONT, fontSize: 48 },
      });
      const s = labelShift[r];
      yAxis.push({
        type: "value", gridIndex: idx, min: 0, max: 0.8, interval: 0.2,
        axisLine: { show: true, onZero: false, lineStyle: { color: "#222", width: 1.5 } },
        axisTick: { show: true, inside: false, length: 4, lineStyle: { color: "#444", width: 1.5 } },
        splitLine: { show: false },
        axisLabel: {
          show: c === 0, margin: 24, color: "#000", fontFamily: FONT, fontSize: 48, align: "right",
          formatter: (v: number) => {
            if (Math.abs(v - yTickValues[0]) < 1e-6) return `{zero|${yTickLabels[0]}}`;
            if (Math.abs(v - yTickValues[1]) < 1e-6) return `{mid|${yTickLabels[1]}}`;
            return "";
          },
          rich: {
            zero: { fontFamily: FONT, fontSize: 48, color: "#000", padding: [Math.max(s.zero, 0) * 2, s.zeroRight, Math.max(-s.zero, 0) * 2, 0] },
            mid: { fontFamily: FONT, fontSize: 48, color: "#000", padding: [Math.max(s.mid, 0) * 2, 0, Math.max(-s.mid, 0) * 2, 0] },
          },
        },
      });
      const common = { type: "line", xAxisIndex: idx, yAxisIndex: idx, symbol: "none", showSymbol: false, silent: true, clip: false, animation: false, connectNulls: false };
      const cx = upperThroatCentres[r];
      const top = rimPath(cx, 0.8, -1, upperGaps[r][c] as number[][]);
      const bot = rimPath(0, 0, 1, lowerGaps[r][c] as number[][]);
      const frameStyle = { color: "#858585", width: 1.3 };
      const wallStyle = { color: "#2e2e2e", width: 1 };
      series.push({ ...common, data: top.map((p) => p ?? [null, null]), lineStyle: frameStyle });
      series.push({ ...common, data: bot.map((p) => p ?? [null, null]), lineStyle: frameStyle });
      series.push({ ...common, data: [[1.5, 0.8], [1.5, 0]], lineStyle: frameStyle });
      series.push({ ...common, data: top.filter((p) => !p || Math.abs(p[0] - cx) < 0.42).map((p) => p ?? [null, null]), lineStyle: wallStyle });
      series.push({ ...common, data: bot.filter((p) => !p || Math.abs(p[0]) < 0.42).map((p) => p ?? [null, null]), lineStyle: wallStyle });
      const curves = (c === 0 ? leftCurves : rightCurves)[r];
      curves.forEach(([data, color, w]) => {
        const smooth = (c === 1 || smoothEverywhere.has(data)) && data.length > 3 ? 0.3 : false;
        series.push({ ...common, data, smooth, lineStyle: { color, width: w ?? 3.3, cap: "round", join: "round" } });
      });
      idx++;
    });
    graphic.push({ type: "text", x: 44, y: yNameCentres[r], style: { text: "y", font: `48px ${FONT}`, fill: "#000", textAlign: "center", textVerticalAlign: "middle" } });
  });
  return {
    animation: false,
    backgroundColor: "#fff",
    title: [
      { text: titles[0], left: 725, top: 59, textAlign: "center", textStyle: { fontFamily: FONT, fontSize: 50, fontWeight: "normal", color: "#000" } },
      { text: titles[1], left: 1897, top: 59, textAlign: "center", textStyle: { fontFamily: FONT, fontSize: 50, fontWeight: "normal", color: "#000" } },
    ],
    grid, xAxis, yAxis, series, graphic,
  };
}

export default function App() {
  const ref = useRef<HTMLDivElement>(null);
  useEffect(() => {
    const chart = echarts.init(ref.current!, undefined, { renderer: "svg" });
    chart.setOption(buildOption() as any);
    return () => chart.dispose();
  }, []);
  return <div ref={ref} style={{ position: "absolute", left: 0, top: 0, width: 2550, height: 2163 }} />;
}
